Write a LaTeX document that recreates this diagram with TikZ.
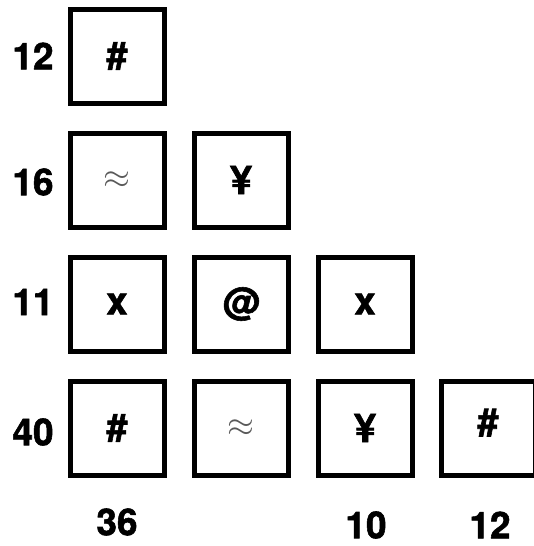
\documentclass[tikz,border=0pt]{standalone}
\usepackage{fontspec}
\setmainfont{TeX Gyre Heros}[BoldFeatures={FakeBold=1.5}]
\usepackage{amssymb}

\tikzset{
  cell/.style={draw, line width=2.5pt, minimum size=47pt, inner sep=0pt,
               font=\fontsize{19}{19}\selectfont\bfseries},
  sumlabel/.style={font=\fontsize{18.5}{18.5}\selectfont\bfseries, inner sep=0pt},
  faint/.style={text=black!65, font=\fontsize{16}{16}\selectfont}
}

\begin{document}
\begin{tikzpicture}[x=0.5pt, y=-0.5pt]

\useasboundingbox (0,0) rectangle (534,546);

%%%%%%%%%%%%%%% row 1
\node [cell] (c11) at (117,56) {\#};

%%%%%%%%%%%%%%% row 2
\node [cell] (c21) at (117,180) {};
\node [faint] at (c21) {$\approx$};
\node [cell] (c22) at (241,180) {\raisebox{-1pt}{\fontsize{20}{20}\selectfont ¥}};

%%%%%%%%%%%%%%% row 3
\node [cell] (c31) at (117,304) {x};
\node [cell] (c32) at (241,304) {@};
\node [cell] (c33) at (365,304) {x};

%%%%%%%%%%%%%%% row 4
\node [cell] (c41) at (117,428) {\#};
\node [cell] (c42) at (241,428) {};
\node [faint] at (c42) {$\approx$};
\node [cell] (c43) at (365,428) {\raisebox{-1pt}{\fontsize{20}{20}\selectfont ¥}};
\node [cell] (c44) at (488,428) {\raisebox{6pt}{\#}};

%%%%%%%%%%%%%%% row sums
\node [sumlabel] (r1) at (33,56) {12};
\node [sumlabel] (r2) at (33,182) {16};
\node [sumlabel] (r3) at (33,302) {11};
\node [sumlabel] (r4) at (33,432) {40};

%%%%%%%%%%%%%%% column sums
\node [sumlabel] (s1) at (117,522) {36};
\node [sumlabel] (s3) at (366,525) {10};
\node [sumlabel] (s4) at (490,525) {12};

\end{tikzpicture}
\end{document}
